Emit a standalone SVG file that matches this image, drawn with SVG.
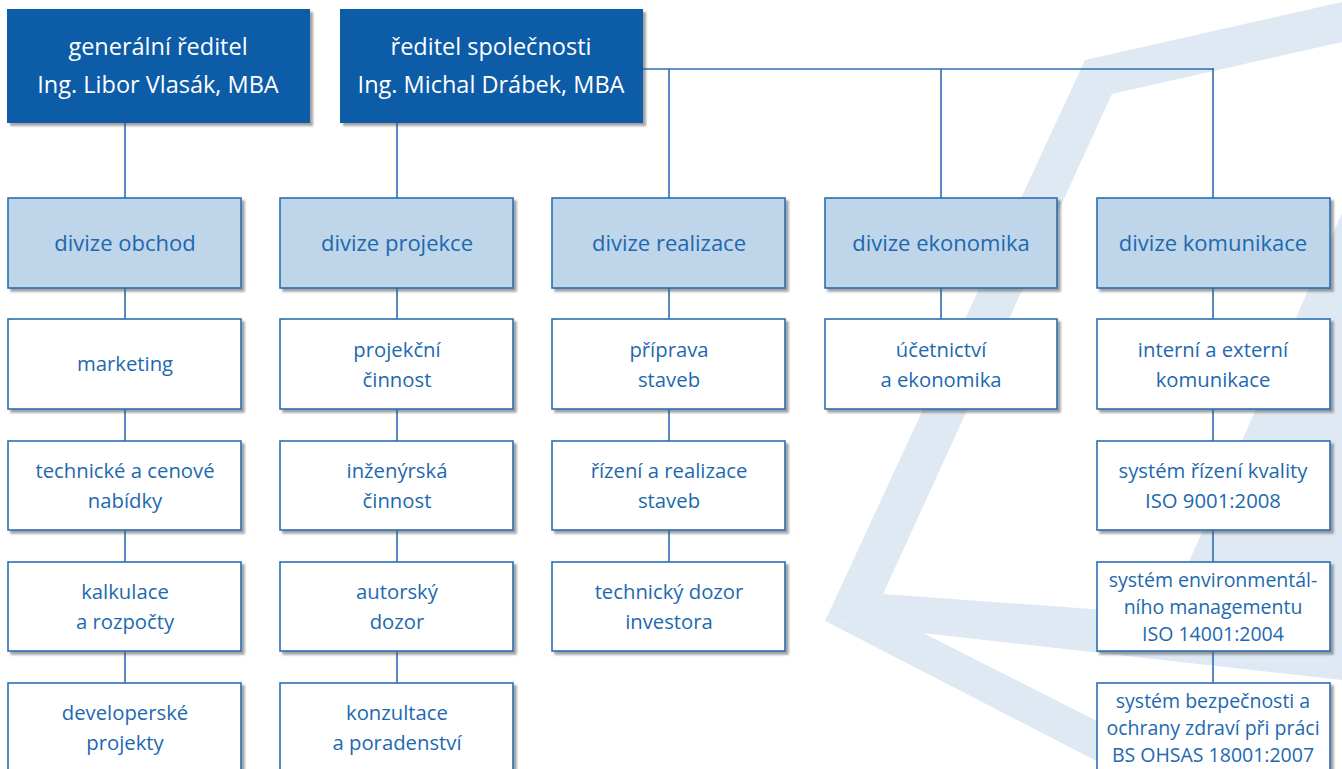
<svg xmlns="http://www.w3.org/2000/svg" width="1342" height="769" viewBox="0 0 1342 769">
<defs>
<filter id="sh" x="-5%" y="-5%" width="115%" height="120%">
<feDropShadow dx="3" dy="3" stdDeviation="1.2" flood-color="#555" flood-opacity="0.55"/>
</filter>
<style>
.bg{fill:#dfe9f3}
.top{fill:#0a5ca8;filter:url(#sh)}
.div{fill:#bed5ea;stroke:#2b6eb3;stroke-width:1.6;filter:url(#sh)}
.box{fill:#ffffff;stroke:#2b6eb3;stroke-width:1.6;filter:url(#sh)}
.con line{stroke:#2b6eb3;stroke-width:1.6}
text{font-family:"Open Sans","Liberation Sans",sans-serif;text-anchor:middle}
.tt{fill:#ffffff;font-size:23.5px}
.dt{fill:#1d69b0;font-size:22px}
.bt{fill:#1d69b0;font-size:20.3px}
.st{fill:#1d69b0;font-size:19.5px}
</style>
</defs>
<rect width="1342" height="769" fill="#ffffff"/>
<g id="background">
<polygon class="bg" points="1085,60 1342,2 1342,42 1112,94"/>
<polygon class="bg" points="1085,60 1112,94 883,594 825,621"/>
<polygon class="bg" points="825,621 883,594 1342,627 1342,680 923,633"/>
<polygon class="bg" points="825,621 923,633 1192,769 1112,769"/>
<polygon class="bg" points="1342,213 1166,614 1342,627"/>
</g>
<g id="connectors" class="con">
<line x1="125" y1="123" x2="125" y2="198"/>
<line x1="125" y1="288" x2="125" y2="319"/>
<line x1="125" y1="409" x2="125" y2="441"/>
<line x1="125" y1="530" x2="125" y2="562"/>
<line x1="125" y1="651" x2="125" y2="683"/>
<line x1="397" y1="123" x2="397" y2="198"/>
<line x1="397" y1="288" x2="397" y2="319"/>
<line x1="397" y1="409" x2="397" y2="441"/>
<line x1="397" y1="530" x2="397" y2="562"/>
<line x1="397" y1="651" x2="397" y2="683"/>
<line x1="643" y1="69" x2="1214" y2="69"/>
<line x1="669" y1="69" x2="669" y2="198"/>
<line x1="669" y1="288" x2="669" y2="319"/>
<line x1="669" y1="409" x2="669" y2="441"/>
<line x1="669" y1="530" x2="669" y2="562"/>
<line x1="941" y1="69" x2="941" y2="198"/>
<line x1="941" y1="288" x2="941" y2="319"/>
<line x1="1213" y1="68.2" x2="1213" y2="198"/>
<line x1="1213" y1="288" x2="1213" y2="319"/>
<line x1="1213" y1="409" x2="1213" y2="441"/>
<line x1="1213" y1="530" x2="1213" y2="562"/>
<line x1="1213" y1="651" x2="1213" y2="683"/>
</g>
<g id="gr">
<rect class="top" x="7" y="9" width="303" height="114"/>
<text class="tt" x="158" y="55">generální ředitel</text>
<text class="tt" x="158" y="93">Ing. Libor Vlasák, MBA</text>
</g>
<g id="rs">
<rect class="top" x="340" y="9" width="303" height="114"/>
<text class="tt" x="491" y="55">ředitel společnosti</text>
<text class="tt" x="491" y="93">Ing. Michal Drábek, MBA</text>
</g>
<g id="d1"><rect class="div" x="8" y="198" width="233" height="90"/><text class="dt" x="125" y="251">divize obchod</text></g>
<g id="d2"><rect class="div" x="280" y="198" width="233" height="90"/><text class="dt" x="397" y="251">divize projekce</text></g>
<g id="d3"><rect class="div" x="552" y="198" width="233" height="90"/><text class="dt" x="669" y="251">divize realizace</text></g>
<g id="d4"><rect class="div" x="825" y="198" width="232" height="90"/><text class="dt" x="941" y="251">divize ekonomika</text></g>
<g id="d5"><rect class="div" x="1097" y="198" width="233" height="90"/><text class="dt" x="1213" y="251">divize komunikace</text></g>
<g id="c1r1"><rect class="box" x="8" y="319" width="233" height="90"/><text class="bt" x="125" y="371">marketing</text></g>
<g id="c1r2"><rect class="box" x="8" y="441" width="233" height="89"/><text class="bt" x="125" y="478">technické a cenové</text><text class="bt" x="125" y="508">nabídky</text></g>
<g id="c1r3"><rect class="box" x="8" y="562" width="233" height="89"/><text class="bt" x="125" y="599">kalkulace</text><text class="bt" x="125" y="629">a rozpočty</text></g>
<g id="c1r4"><rect class="box" x="8" y="683" width="233" height="90"/><text class="bt" x="125" y="720">developerské</text><text class="bt" x="125" y="750">projekty</text></g>
<g id="c2r1"><rect class="box" x="280" y="319" width="233" height="90"/><text class="bt" x="397" y="357">projekční</text><text class="bt" x="397" y="387">činnost</text></g>
<g id="c2r2"><rect class="box" x="280" y="441" width="233" height="89"/><text class="bt" x="397" y="478">inženýrská</text><text class="bt" x="397" y="508">činnost</text></g>
<g id="c2r3"><rect class="box" x="280" y="562" width="233" height="89"/><text class="bt" x="397" y="599">autorský</text><text class="bt" x="397" y="629">dozor</text></g>
<g id="c2r4"><rect class="box" x="280" y="683" width="233" height="90"/><text class="bt" x="397" y="720">konzultace</text><text class="bt" x="397" y="750">a poradenství</text></g>
<g id="c3r1"><rect class="box" x="552" y="319" width="233" height="90"/><text class="bt" x="669" y="357">příprava</text><text class="bt" x="669" y="387">staveb</text></g>
<g id="c3r2"><rect class="box" x="552" y="441" width="233" height="89"/><text class="bt" x="669" y="478">řízení a realizace</text><text class="bt" x="669" y="508">staveb</text></g>
<g id="c3r3"><rect class="box" x="552" y="562" width="233" height="89"/><text class="bt" x="669" y="599">technický dozor</text><text class="bt" x="669" y="629">investora</text></g>
<g id="c4r1"><rect class="box" x="825" y="319" width="232" height="90"/><text class="bt" x="941" y="357">účetnictví</text><text class="bt" x="941" y="387">a ekonomika</text></g>
<g id="c5r1"><rect class="box" x="1097" y="319" width="233" height="90"/><text class="bt" x="1213" y="357">interní a externí</text><text class="bt" x="1213" y="387">komunikace</text></g>
<g id="c5r2"><rect class="box" x="1097" y="441" width="233" height="89"/><text class="bt" x="1213" y="478">systém řízení kvality</text><text class="bt" x="1213" y="508">ISO 9001:2008</text></g>
<g id="c5r3"><rect class="box" x="1097" y="562" width="233" height="89"/><text class="st" x="1213" y="587">systém environmentál-</text><text class="st" x="1213" y="614">ního managementu</text><text class="st" x="1213" y="641">ISO 14001:2004</text></g>
<g id="c5r4"><rect class="box" x="1097" y="683" width="233" height="90"/><text class="st" x="1213" y="708">systém bezpečnosti a</text><text class="st" x="1213" y="735">ochrany zdraví při práci</text><text class="st" x="1213" y="762">BS OHSAS 18001:2007</text></g>
</svg>
